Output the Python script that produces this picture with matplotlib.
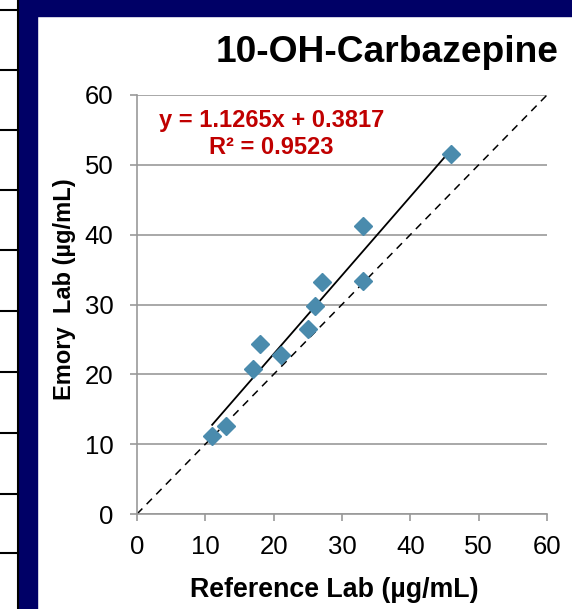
import matplotlib
matplotlib.use("Agg")
import matplotlib.pyplot as plt
from matplotlib.patches import Rectangle
from matplotlib.lines import Line2D
import numpy as np

plt.rcParams['font.family'] = ['Liberation Sans', 'DejaVu Sans']

# Data
reference_lab = [11, 13, 17, 18, 21, 25, 26, 27, 33, 33, 46]
emory_lab = [11.1, 12.6, 20.7, 24.4, 22.7, 26.5, 29.8, 33.2, 41.3, 33.4, 51.5]
slope = 1.1265
intercept = 0.3817
r_squared = 0.9523
title = "10-OH-Carbazepine"
x_label = "Reference Lab (µg/mL)"
y_label = "Emory  Lab (µg/mL)"
ticks = [0, 10, 20, 30, 40, 50, 60]

W, H = 572, 609
fig = plt.figure(figsize=(W / 100, H / 100), dpi=100)

# Decorative frame (navy border + ruled lines on the left)
navy = "#000066"
fig.add_artist(Rectangle((18 / W, 0), 19 / W, 1, transform=fig.transFigure, color=navy, zorder=0))
fig.add_artist(Rectangle((18 / W, 1 - 16 / H), 1 - 18 / W, 16 / H, transform=fig.transFigure, color=navy, zorder=0))
fig.add_artist(Line2D([17.5 / W, 17.5 / W], [0, 1], transform=fig.transFigure, color="black", lw=1.5))
for yp in [10, 70, 130, 190, 250, 311, 372, 433, 494, 553]:
    fig.add_artist(Line2D([0, 18 / W], [1 - yp / H, 1 - yp / H], transform=fig.transFigure, color="black", lw=1.5))

ax = fig.add_axes([137 / W, 1 - 514 / H, 410 / W, 419 / H])
ax.set_xlim(0, 60)
ax.set_ylim(0, 60)
ax.set_xticks(ticks)
ax.set_yticks(ticks)
grid_c = "#999999"
ax.yaxis.grid(True, color=grid_c, lw=1.2)
ax.set_axisbelow(True)
for s in ["top", "right"]:
    ax.spines[s].set_visible(False)
for s in ["left", "bottom"]:
    ax.spines[s].set_color(grid_c)
    ax.spines[s].set_linewidth(1.2)
ax.tick_params(axis="both", colors=grid_c, width=1.2, length=5, labelsize=18.5, labelcolor="black")
ax.tick_params(axis="y", pad=12)
ax.tick_params(axis="x", pad=10)

# identity line
ax.plot([0, 60], [0, 60], color="black", lw=1.1, ls=(0, (5, 4)), zorder=2)
# trend line
xs = np.array([min(reference_lab), max(reference_lab)])
ax.plot(xs, slope * xs + intercept, color="black", lw=1.3, zorder=3)
# points
ax.plot(reference_lab, emory_lab, ls="none", marker="D", ms=9.5, color="#4A8BAD", mec="#4A8BAD", zorder=4)

red = "#C00000"
fig.text(271.5 / W, 1 - 121 / H, f"y = {slope}x + {intercept}", color=red, fontsize=17,
         fontweight="bold", ha="center", va="center")
fig.text(271.5 / W, 1 - 148 / H, f"R² = {r_squared}", color=red, fontsize=17,
         fontweight="bold", ha="center", va="center")

fig.text(559 / W, 1 - 52 / H, title, fontsize=26.7, fontweight="bold", ha="right", va="center")
fig.text(334 / W, 1 - 590 / H, x_label, fontsize=19.3, fontweight="bold", ha="center", va="center")
fig.text(64 / W, 1 - 289 / H, y_label, fontsize=17, fontweight="bold", ha="center", va="center", rotation=90)

fig.savefig("out.png", dpi=100)
